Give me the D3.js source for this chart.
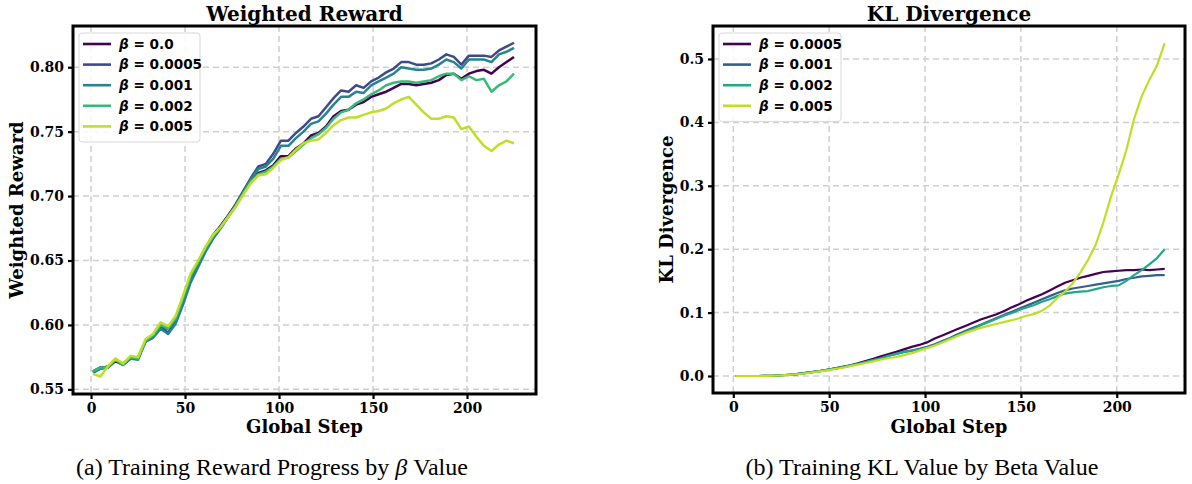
<!DOCTYPE html>
<html><head><meta charset="utf-8">
<script src="https://cdn.jsdelivr.net/npm/d3@7"></script>
<style>body{margin:0;background:#fff} svg{display:block}</style>
</head><body><svg id="c" width="1192" height="484"></svg>
<script>
// ---- data ----
const steps = [1,5,9,13,17,21,25,29,33,37,41,45,49,53,57,61,65,69,73,77,81,85,89,93,97,101,105,109,113,117,121,125,129,133,137,141,145,149,153,157,161,165,169,173,177,181,185,189,193,197,201,205,209,213,217,221,225];

const rewardBeta0 = [0.564,0.567,0.567,0.572,0.569,0.574,0.575,0.587,0.592,0.599,0.597,0.604,0.620,0.638,0.649,0.660,0.670,0.677,0.685,0.693,0.703,
 0.712,0.718,0.720,0.724,0.731,0.731,0.737,0.741,0.747,0.749,0.754,0.762,0.766,0.767,0.771,0.773,0.777,0.779,0.781,0.784,0.787,0.787,0.786,0.787,0.788,0.790,0.794,0.795,0.791,0.795,0.797,0.798,0.795,0.800,0.804,0.808];
const rewardBeta00005 = [0.563,0.566,0.568,0.573,0.570,0.575,0.574,0.588,0.591,0.599,0.594,0.602,0.618,0.635,0.647,0.659,0.669,0.677,0.685,0.694,0.704,
 0.714,0.723,0.725,0.733,0.743,0.743,0.749,0.754,0.760,0.762,0.769,0.776,0.782,0.781,0.786,0.784,0.789,0.792,0.796,0.799,0.804,0.804,0.802,0.802,0.803,0.806,0.810,0.808,0.802,0.809,0.809,0.809,0.808,0.813,0.816,0.819];
const rewardBeta0001 = [0.563,0.566,0.567,0.573,0.569,0.574,0.573,0.587,0.590,0.597,0.593,0.601,0.616,0.633,0.645,0.657,0.667,0.675,0.684,0.693,0.703,
 0.713,0.721,0.723,0.729,0.739,0.739,0.745,0.750,0.756,0.758,0.764,0.771,0.777,0.777,0.781,0.780,0.786,0.789,0.792,0.795,0.800,0.799,0.798,0.798,0.799,0.802,0.806,0.804,0.799,0.806,0.806,0.806,0.804,0.810,0.812,0.815];
const rewardBeta0002 = [0.564,0.567,0.567,0.573,0.569,0.575,0.574,0.588,0.592,0.600,0.597,0.605,0.621,0.638,0.649,0.660,0.669,0.676,0.684,0.692,0.702,
 0.711,0.717,0.719,0.723,0.729,0.730,0.735,0.740,0.745,0.748,0.753,0.760,0.765,0.767,0.772,0.775,0.779,0.782,0.786,0.788,0.789,0.789,0.788,0.789,0.790,0.793,0.795,0.795,0.790,0.793,0.790,0.791,0.781,0.786,0.789,0.795];
const rewardBeta0005 = [0.562,0.560,0.568,0.574,0.570,0.576,0.575,0.589,0.593,0.602,0.599,0.607,0.623,0.640,0.650,0.661,0.670,0.676,0.684,0.692,0.701,
 0.710,0.716,0.717,0.722,0.728,0.730,0.736,0.741,0.743,0.744,0.749,0.755,0.759,0.761,0.761,0.763,0.765,0.766,0.768,0.772,0.775,0.777,0.771,0.765,0.760,0.760,0.762,0.761,0.752,0.754,0.746,0.739,0.735,0.740,0.743,0.741];

const klBeta00005 = [0,0,0,0,0.0003,0.0006,0.0012,0.002,0.003,0.0045,0.006,0.0078,0.0098,0.012,0.0145,0.017,0.020,0.0235,0.027,0.031,0.0345,
 0.038,0.042,0.046,0.049,0.053,0.059,0.064,0.069,0.074,0.079,0.084,0.089,0.093,0.097,0.102,0.108,0.113,0.119,0.124,0.129,0.135,0.141,0.147,0.151,0.155,0.158,0.161,0.164,0.165,0.166,0.167,0.167,0.168,0.167,0.168,0.169];
const klBeta0001 = [0,0,0,0,0.0003,0.0006,0.0012,0.002,0.003,0.0045,0.006,0.0077,0.0096,0.0117,0.014,0.0163,0.019,0.022,0.025,0.028,0.032,
 0.035,0.038,0.040,0.043,0.046,0.050,0.055,0.060,0.066,0.071,0.076,0.081,0.086,0.091,0.096,0.101,0.106,0.111,0.116,0.121,0.126,0.131,0.135,0.138,0.140,0.142,0.144,0.146,0.148,0.150,0.153,0.155,0.157,0.158,0.159,0.159];
const klBeta0002 = [0,0,0,0,0.0003,0.0006,0.0012,0.002,0.003,0.0045,0.006,0.0077,0.0096,0.0117,0.014,0.0163,0.019,0.022,0.025,0.028,0.032,
 0.035,0.038,0.040,0.042,0.045,0.049,0.054,0.059,0.064,0.069,0.074,0.080,0.085,0.090,0.095,0.099,0.104,0.108,0.112,0.117,0.121,0.126,0.130,0.132,0.133,0.134,0.137,0.140,0.142,0.143,0.150,0.159,0.167,0.176,0.186,0.200];
const klBeta0005 = [0,0,0,0,0.0002,0.0005,0.001,0.0018,0.0028,0.004,0.0055,0.0072,0.009,0.011,0.013,0.0155,0.018,0.0205,0.023,0.026,0.028,
 0.030,0.033,0.036,0.040,0.044,0.048,0.053,0.058,0.063,0.068,0.072,0.076,0.079,0.082,0.085,0.088,0.091,0.095,0.098,0.103,0.111,0.123,0.133,0.146,0.163,0.183,0.207,0.242,0.283,0.318,0.356,0.405,0.441,0.467,0.490,0.525];

const rewardLabels = ["0.0","0.0005","0.001","0.002","0.005"];
const klLabels = ["0.0005","0.001","0.002","0.005"];
const xTicks = [0,50,100,150,200];
const rewardTicks = [0.55,0.60,0.65,0.70,0.75,0.80];
const klTicks = [0.0,0.1,0.2,0.3,0.4,0.5];

// ---- drawing ----
const svg = d3.select("#c");
const serif = "'DejaVu Serif', serif";
const sans = "'DejaVu Sans', sans-serif";

function panel(o){
  const g = svg.append("g");
  const x = d3.scaleLinear().domain(o.xDomain).range([o.left, o.right]);
  const y = d3.scaleLinear().domain(o.yDomain).range([o.bottom, o.top]);

  // grid
  g.append("g").selectAll("line").data(o.xTicks).join("line")
    .attr("x1", d=>x(d)).attr("x2", d=>x(d)).attr("y1", o.top).attr("y2", o.bottom)
    .attr("stroke","#cfcfcf").attr("stroke-width",1.5).attr("stroke-dasharray","6,4");
  g.append("g").selectAll("line").data(o.yTicks).join("line")
    .attr("y1", d=>y(d)).attr("y2", d=>y(d)).attr("x1", o.left).attr("x2", o.right)
    .attr("stroke","#cfcfcf").attr("stroke-width",1.5).attr("stroke-dasharray","6,4");

  // lines
  const line = d3.line().x((d,i)=>x(steps[i])).y(d=>y(d));
  o.series.forEach((s)=>{
    g.append("path").datum(s.values).attr("d", line)
      .attr("fill","none").attr("stroke", s.color).attr("stroke-width", o.lw)
      .attr("stroke-linejoin","round").attr("stroke-linecap","butt");
  });

  // axes
  const xa = g.append("g").attr("transform",`translate(0,${o.bottom})`)
    .call(d3.axisBottom(x).tickValues(o.xTicks).tickFormat(d3.format("d")).tickSize(5).tickPadding(4));
  const ya = g.append("g").attr("transform",`translate(${o.left},0)`)
    .call(d3.axisLeft(y).tickValues(o.yTicks).tickFormat(o.yFormat).tickSize(5).tickPadding(4));
  [xa,ya].forEach(a=>{
    a.select(".domain").remove();
    a.selectAll(".tick line").attr("stroke","#000").attr("stroke-width",2.2);
    a.selectAll(".tick text").attr("fill","#000").style("font-family",serif).style("font-weight","bold").style("font-size","14px");
  });

  // frame
  g.append("rect").attr("x",o.left).attr("y",o.top).attr("width",o.right-o.left).attr("height",o.bottom-o.top)
    .attr("fill","none").attr("stroke","#000").attr("stroke-width",3);

  // titles
  const cx = (o.left+o.right)/2;
  g.append("text").attr("x",cx).attr("y",21).attr("text-anchor","middle")
    .style("font-family",serif).style("font-weight","bold").style("font-size","20px").text(o.title);
  g.append("text").attr("x",cx).attr("y",433).attr("text-anchor","middle")
    .style("font-family",serif).style("font-weight","bold").style("font-size","18px").text("Global Step");
  g.append("text").attr("transform",`translate(${o.ylabelX},${(o.top+o.bottom)/2}) rotate(-90)`).attr("text-anchor","middle")
    .style("font-family",serif).style("font-weight","bold").style("font-size","18px").text(o.ylabel);

  // legend
  const lg = g.append("g");
  lg.append("rect").attr("x",o.left+6).attr("y",o.top+7).attr("width",o.legW).attr("height",o.series.length*20.6+6)
    .attr("rx",3).attr("fill","#fff").attr("fill-opacity",0.85).attr("stroke","#d8d8d8").attr("stroke-width",1);
  o.series.forEach((s,i)=>{
    const yy = o.top+18+i*20.6;
    lg.append("line").attr("x1",o.left+10).attr("x2",o.left+38).attr("y1",yy).attr("y2",yy)
      .attr("stroke",s.color).attr("stroke-width",2.6);
    const t = lg.append("text").attr("x",o.left+46).attr("y",yy+4.8)
      .style("font-family",sans).style("font-weight","bold").style("font-size","13.6px");
    t.append("tspan").style("font-style","italic").text("β");
    t.append("tspan").text(" = " + s.label);
  });

  // caption
  const cap = g.append("text").attr("x",o.capX).attr("y",475).attr("text-anchor","middle")
    .style("font-family","'Liberation Serif', 'Times New Roman', serif").style("font-size","24px");
  o.caption.forEach(p=>{ const ts = cap.append("tspan").text(p.t); if(p.i) ts.style("font-style","italic"); });
}

const v = t => d3.interpolateViridis(t);
const rewardSeries = [rewardBeta0, rewardBeta00005, rewardBeta0001, rewardBeta0002, rewardBeta0005]
  .map((vals,i)=>({values:vals, label:rewardLabels[i], color:v([0,0.225,0.45,0.675,0.9][i])}));
const klSeries = [klBeta00005, klBeta0001, klBeta0002, klBeta0005]
  .map((vals,i)=>({values:vals, label:klLabels[i], color:v([0,0.3,0.6,0.9][i])}));

panel({
  left:73, right:536, top:26, bottom:394,
  xDomain:[-9.6,236.7], yDomain:[0.5464,0.832],
  xTicks:xTicks, yTicks:rewardTicks, yFormat:d3.format(".2f"),
  series:rewardSeries, lw:2.5,
  title:"Weighted Reward", ylabel:"Weighted Reward", ylabelX:23,
  legW:121, capX:272,
  caption:[{t:"(a) Training Reward Progress by "},{t:"β",i:true},{t:" Value"}]
});
panel({
  left:713, right:1185, top:26, bottom:393,
  xDomain:[-10.6,235.6], yDomain:[-0.0268,0.552],
  xTicks:xTicks, yTicks:klTicks, yFormat:d3.format(".1f"),
  series:klSeries, lw:2.2,
  title:"KL Divergence", ylabel:"KL Divergence", ylabelX:673,
  legW:122, capX:922,
  caption:[{t:"(b) Training KL Value by Beta Value"}]
});
</script></body></html>
